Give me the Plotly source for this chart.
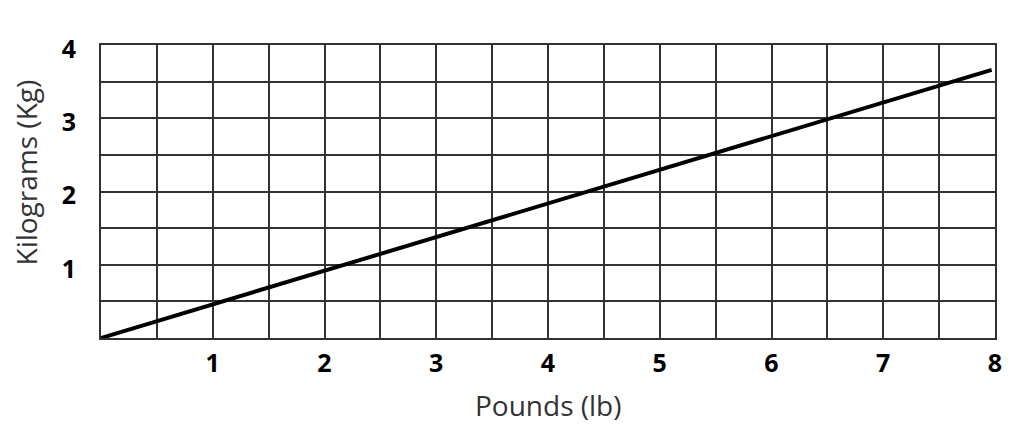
import plotly.graph_objects as go

# conversion line: pounds -> kilograms
pounds = [0, 7.97]
kilograms = [0, 3.66]

x_grid = [i * 0.5 for i in range(17)]
y_grid = [i * 0.5 for i in range(9)]


def tick_text(vals):
    return [str(int(v)) if v > 0 and v == int(v) else "" for v in vals]


fig = go.Figure()
fig.add_trace(
    go.Scatter(
        x=pounds,
        y=kilograms,
        mode="lines",
        line=dict(color="black", width=4),
        showlegend=False,
    )
)

axis_style = dict(
    tickmode="array",
    tickfont=dict(size=25, family="Open Sans", weight="bold", color="black"),
    showgrid=True,
    gridcolor="#333333",
    gridwidth=2,
    zeroline=False,
    showline=True,
    linecolor="#333333",
    linewidth=2,
    mirror=True,
    automargin=False,
)

title_font = dict(size=28, family="Open Sans", color="#333333")

fig.update_layout(
    width=1008,
    height=417,
    margin=dict(l=93, r=21, t=37, b=87),
    paper_bgcolor="white",
    plot_bgcolor="white",
    font=dict(family="Open Sans", color="black"),
    xaxis=dict(
        axis_style,
        range=[0, 8],
        tickvals=x_grid,
        ticktext=tick_text(x_grid),
        ticklabelstandoff=2,
    ),
    yaxis=dict(
        axis_style,
        range=[0, 4],
        tickvals=y_grid,
        ticktext=tick_text(y_grid),
        ticklabelstandoff=18,
        ticklabelshift=4,
    ),
    annotations=[
        dict(
            text="Pounds (lb)", font=title_font, showarrow=False,
            xref="paper", yref="paper", x=0.5, y=0,
            xanchor="center", yanchor="middle", yshift=-67,
        ),
        dict(
            text="Kilograms (Kg)", font=title_font, showarrow=False, textangle=-90,
            xref="paper", yref="paper", x=0, y=0.5,
            xanchor="center", yanchor="middle", xshift=-76, yshift=19,
        ),
    ],
)

fig.write_html("out.html")
